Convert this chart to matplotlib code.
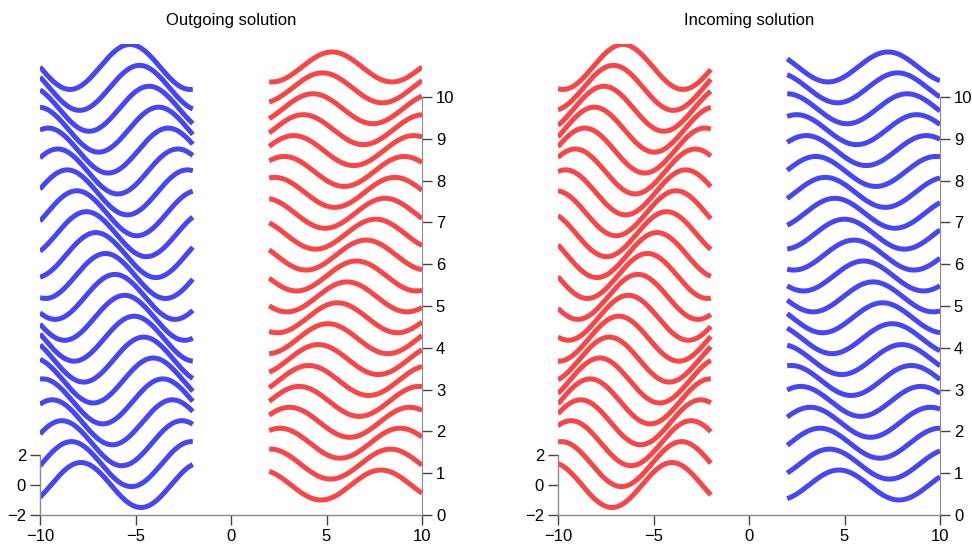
import numpy as np
import matplotlib
matplotlib.use("Agg")
import matplotlib.pyplot as plt

plt.rcParams['font.family'] = ['Liberation Sans', 'DejaVu Sans']

# values
titles = ["Outgoing solution", "Incoming solution"]
times = [0.0, 0.5, 1.0, 1.5, 2.0, 2.5, 3.0, 3.5, 4.0, 4.5, 5.0,
         5.5, 6.0, 6.5, 7.0, 7.5, 8.0, 8.5, 9.0, 9.5, 10.0]
amp_left = 1.5
amp_right = 1.0
offset_per_t = 2.787          # stacking of each curve (left-axis units per t)
# (direction of travel, phase at t=0) for the left piece and the right piece
left_wave = [(+1, np.pi), (-1, -0.68)]
right_wave = [(-1, 0.0), (+1, np.pi)]
left_colors = ['#4646f4', '#f84646']
right_colors = ['#f84646', '#4646f4']
xticks = [-10, -5, 0, 5, 10]
left_ticks = [-2, 0, 2]
right_ticks = [0, 1, 2, 3, 4, 5, 6, 7, 8, 9, 10]

spine_col = '#8a8a8a'
tick_col = '#444444'

fig = plt.figure(figsize=(9.72, 5.46), dpi=100)

xl = np.linspace(-10, -2, 300)
xr = np.linspace(2, 10, 300)

for i in range(2):
    x0 = [40, 558][i] / 972
    ax = fig.add_axes([x0, 31 / 546, 382 / 972, 471 / 546])
    sl, pl = left_wave[i]
    sr, pr = right_wave[i]
    for t in times:
        off = offset_per_t * t
        ax.plot(xl, amp_left * np.sin(xl + sl * t + pl) + off,
                color=left_colors[i], lw=3.6, solid_capstyle='butt')
        ax.plot(xr, amp_right * np.sin(xr + sr * t + pr) + off,
                color=right_colors[i], lw=3.6, solid_capstyle='butt')
    ax.set_xlim(-10, 10)
    ax.set_ylim(-2, 29.4)
    ax.set_xticks(xticks)
    ax.set_yticks(left_ticks)
    ax.spines['top'].set_visible(False)
    ax.spines['right'].set_visible(False)
    ax.spines['left'].set_bounds(-2, 2)
    for s in ['left', 'bottom']:
        ax.spines[s].set_color(spine_col)
        ax.spines[s].set_linewidth(1.0)
    ax.tick_params(direction='out', length=7, width=1, color=tick_col,
                   labelsize=12, pad=3)

    ax2 = ax.twinx()
    ax2.set_ylim(0, 471 / 41.8)
    ax2.set_yticks(right_ticks)
    for s in ['top', 'left', 'bottom']:
        ax2.spines[s].set_visible(False)
    ax2.spines['right'].set_bounds(0, 10)
    ax2.spines['right'].set_color(spine_col)
    ax2.tick_params(direction='out', length=7, width=1, color=tick_col,
                    labelsize=12, pad=3)

    fig.text(x0 + 191 / 972, 1 - 20 / 546, titles[i], ha='center',
             va='center', fontsize=12)

fig.savefig("out.png", dpi=100)
